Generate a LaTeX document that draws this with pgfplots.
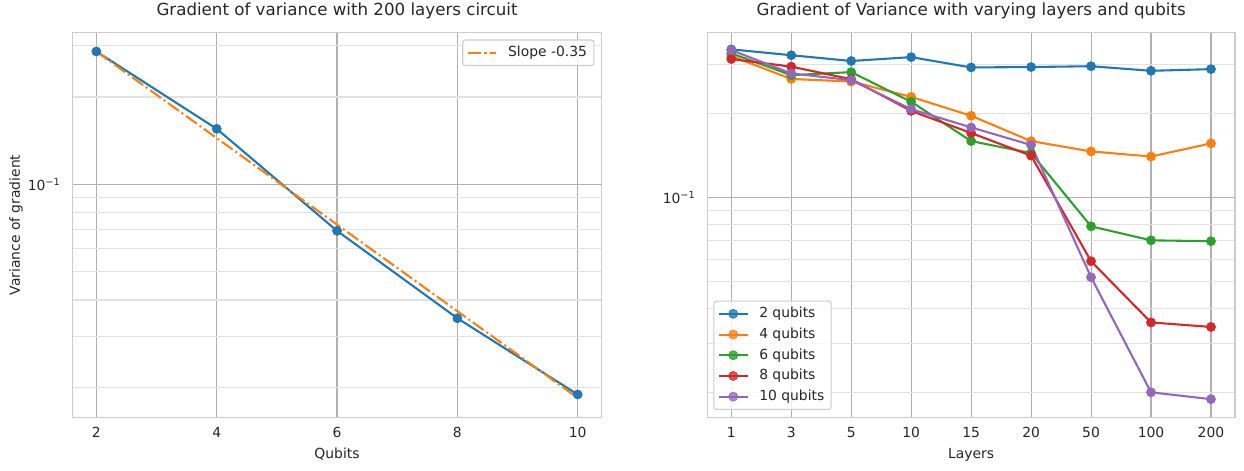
\documentclass[border=0pt]{standalone}
\usepackage{fontspec}
\setmainfont{DejaVu Sans}
\usepackage{pgfplots}
\usepackage{pgfplotstable}
\pgfplotsset{compat=1.18}
\definecolor{tabblue}{HTML}{1F77B4}
\definecolor{taborange}{HTML}{FF7F0E}
\definecolor{tabgreen}{HTML}{2CA02C}
\definecolor{tabred}{HTML}{D62728}
\definecolor{tabpurple}{HTML}{9467BD}
\definecolor{majgrid}{HTML}{B0B0B0}
\definecolor{mingrid}{HTML}{E2E2E2}
\definecolor{spine}{HTML}{CCCCCC}
\definecolor{txt}{HTML}{262626}

\pgfplotstableread{
x q2 q4 q6 q8 q10
0 0.339 0.321 0.328 0.313 0.337
1 0.323 0.2655 0.274 0.294 0.278
2 0.308 0.260 0.281 0.265 0.263
3 0.318 0.229 0.220 0.204 0.207
4 0.292 0.196 0.159 0.170 0.178
5 0.293 0.159 0.144 0.141 0.154
6 0.295 0.146 0.0787 0.0590 0.0517
7 0.284 0.140 0.0701 0.0356 0.0200
8 0.288 0.156 0.0696 0.0343 0.0189
}\layerdata

\tikzset{ser/.style={color=#1, mark=*, mark size=3.3pt, line width=1.5pt, mark options={solid, fill=#1, draw=#1, line width=0.4pt}}}

\begin{document}
\begin{tikzpicture}
\useasboundingbox (0,0) rectangle (895.68pt,338.4pt);
\begin{axis}[
  scale only axis, height=276.9pt, width=381.2pt,
  at={(52.06pt,37.94pt)}, anchor=south west,
  ymode=log,
  axis line style={spine, line width=0.9pt},
  major tick length=0pt, minor tick length=0pt,
  xmajorgrids, ymajorgrids, yminorgrids,
  major grid style={majgrid, line width=0.8pt},
  minor grid style={mingrid, line width=0.8pt},
  ytick={0.1}, yticklabels={10\textsuperscript{−1}},
  minor ytick={0.02,0.03,0.04,0.05,0.06,0.07,0.08,0.09,0.2,0.3},
  tick label style={font=\fontsize{10}{12}\selectfont, text=txt},
  xticklabel style={anchor=base, yshift=-14.7pt},
  yticklabel style={anchor=east, xshift=-5pt},
  label style={font=\fontsize{10}{12}\selectfont, text=txt},
  xlabel style={at={(axis description cs:0.5,0)}, anchor=base, yshift=-29.5pt},
  title style={at={(axis description cs:0.5,1)}, anchor=base, yshift=6.3pt, font=\fontsize{12}{14}\selectfont, text=txt},
  xmin=1.6, xmax=10.4, ymin=0.01577, ymax=0.333,
  xtick={2,4,6,8,10}, xticklabels={2,4,6,8,10},
  xlabel={Qubits}, ylabel={Variance of gradient},
  ylabel style={at={(axis description cs:-0.099,0.5)}, anchor=base},
  title={Gradient of variance with 200 layers circuit},
  legend cell align=left,
  legend image code/.code={\draw[#1] (0pt,0pt) -- (20.6pt,0pt);},
  legend style={font=\fontsize{10}{12}\selectfont, text=txt, draw=spine, line width=0.8pt, rounded corners=2pt, fill=white, fill opacity=0.8, text opacity=1, draw opacity=1, inner xsep=2.9pt, inner ysep=2.4pt, column sep=5.7pt, nodes={inner sep=2pt, text depth=0.2em}, at={(1,1)}, anchor=north east, xshift=-5.3pt, yshift=-4.8pt},
]
\addplot[ser=tabblue, forget plot] coordinates {(2,0.287) (4,0.1554) (6,0.0692) (8,0.0346) (10,0.0189)};
\addplot[taborange, line width=1.5pt, dash pattern=on 9.6pt off 2.4pt on 1.5pt off 2.4pt] coordinates {(2,0.287) (4,0.1444) (6,0.0727) (8,0.0366) (10,0.0184)};
\addlegendentry{Slope -0.35}
\end{axis}
\begin{axis}[
  scale only axis, height=276.9pt, width=379.9pt,
  at={(509.26pt,37.94pt)}, anchor=south west,
  ymode=log,
  axis line style={spine, line width=0.9pt},
  major tick length=0pt, minor tick length=0pt,
  xmajorgrids, ymajorgrids, yminorgrids,
  major grid style={majgrid, line width=0.8pt},
  minor grid style={mingrid, line width=0.8pt},
  ytick={0.1}, yticklabels={10\textsuperscript{−1}},
  minor ytick={0.02,0.03,0.04,0.05,0.06,0.07,0.08,0.09,0.2,0.3},
  tick label style={font=\fontsize{10}{12}\selectfont, text=txt},
  xticklabel style={anchor=base, yshift=-14.7pt},
  yticklabel style={anchor=east, xshift=-5pt},
  label style={font=\fontsize{10}{12}\selectfont, text=txt},
  xlabel style={at={(axis description cs:0.5,0)}, anchor=base, yshift=-29.5pt},
  title style={at={(axis description cs:0.5,1)}, anchor=base, yshift=6.3pt, font=\fontsize{12}{14}\selectfont, text=txt},
  xmin=-0.4, xmax=8.4, ymin=0.01627, ymax=0.389,
  xtick={0,1,2,3,4,5,6,7,8}, xticklabels={1,3,5,10,15,20,50,100,200},
  xlabel={Layers},
  title={Gradient of Variance with varying layers and qubits},
  legend cell align=left,
  legend image code/.code={\draw[mark repeat=2,mark phase=2,#1] plot coordinates {(0pt,0pt) (10.3pt,0pt) (20.6pt,0pt)};},
  legend style={font=\fontsize{10}{12}\selectfont, text=txt, draw=spine, line width=0.8pt, rounded corners=2pt, fill=white, fill opacity=0.8, text opacity=1, draw opacity=1, inner xsep=2.9pt, inner ysep=2.4pt, column sep=5.7pt, nodes={inner sep=2pt, text depth=0.2em}, row sep=1.3pt, at={(0,0)}, anchor=south west, xshift=4.3pt, yshift=5.3pt},
]
\addplot[ser=tabblue] table[x=x, y=q2] {\layerdata};
\addlegendentry{2 qubits}
\addplot[ser=taborange] table[x=x, y=q4] {\layerdata};
\addlegendentry{4 qubits}
\addplot[ser=tabgreen] table[x=x, y=q6] {\layerdata};
\addlegendentry{6 qubits}
\addplot[ser=tabred] table[x=x, y=q8] {\layerdata};
\addlegendentry{8 qubits}
\addplot[ser=tabpurple] table[x=x, y=q10] {\layerdata};
\addlegendentry{10 qubits}
\end{axis}
\end{tikzpicture}
\end{document}
